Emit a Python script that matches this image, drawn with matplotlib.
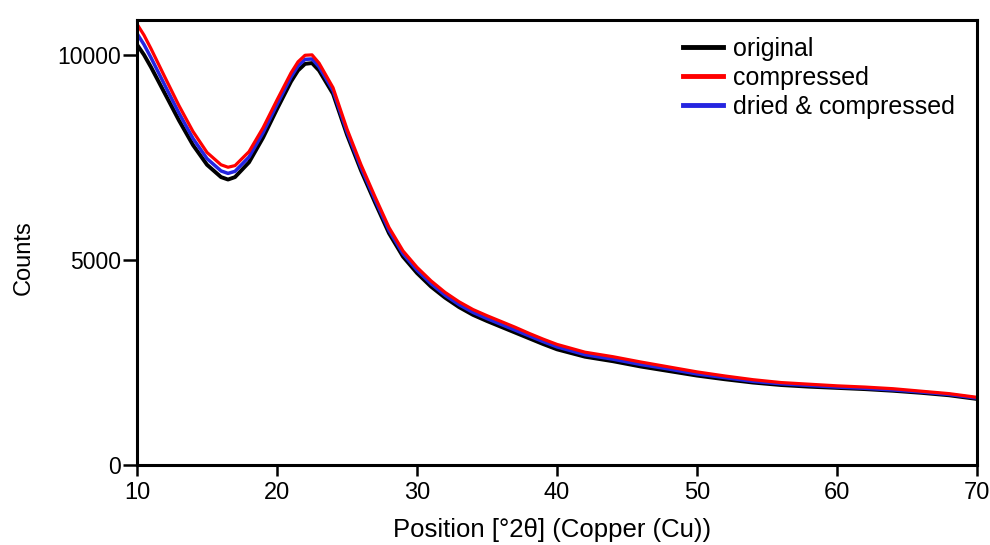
import matplotlib.pyplot as plt

plt.rcParams['font.family'] = ['Liberation Sans', 'DejaVu Sans']

# 2theta positions (deg) and counts
two_theta = [10, 10.5, 11, 12, 13, 14, 15, 16, 16.5, 17, 18, 19, 20, 21, 21.5, 22,
             22.5, 23, 24, 25, 26, 27, 28, 29, 30, 31, 32, 33, 34, 35, 36, 37, 38,
             39, 40, 42, 44, 46, 48, 50, 52, 54, 56, 58, 60, 62, 64, 66, 68, 70]

original = [10250, 10000, 9700, 9050, 8400, 7800, 7320, 7020, 6960, 7020, 7380,
            7980, 8680, 9350, 9620, 9780, 9800, 9620, 9050, 8050, 7180, 6400,
            5650, 5080, 4680, 4350, 4080, 3850, 3660, 3510, 3370, 3230, 3090,
            2950, 2820, 2640, 2530, 2400, 2290, 2180, 2090, 2010, 1950, 1910,
            1880, 1850, 1810, 1760, 1700, 1610]

compressed = [10750, 10480, 10150, 9450, 8760, 8130, 7620, 7320, 7260, 7300, 7640,
              8220, 8900, 9560, 9830, 9990, 10000, 9800, 9200, 8190, 7320, 6540,
              5790, 5220, 4820, 4490, 4210, 3980, 3790, 3640, 3500, 3360, 3210,
              3070, 2940, 2750, 2640, 2510, 2390, 2270, 2170, 2080, 2010, 1970,
              1930, 1900, 1860, 1800, 1740, 1650]

dried_compressed = [10520, 10250, 9930, 9250, 8580, 7960, 7470, 7170, 7110, 7160, 7510,
                    8100, 8790, 9460, 9730, 9890, 9900, 9710, 9130, 8120, 7250, 6470,
                    5720, 5150, 4750, 4420, 4140, 3910, 3720, 3570, 3430, 3290, 3150,
                    3010, 2880, 2690, 2580, 2450, 2340, 2220, 2130, 2040, 1980, 1940,
                    1900, 1870, 1830, 1780, 1720, 1630]

fig = plt.figure(figsize=(9.9, 5.45), dpi=100)
ax = fig.add_axes([0.1384, 0.1468, 0.8485, 0.8165])

ax.plot(two_theta, original, color='black', lw=2.8, label='original')
ax.plot(two_theta, dried_compressed, color='#2525e0', lw=2.5, label='dried & compressed')
ax.plot(two_theta, compressed, color='red', lw=2.3, label='compressed')

ax.set_xlim(10, 70)
ax.set_ylim(0, 10850)
ax.set_xticks([10, 20, 30, 40, 50, 60, 70])
ax.set_yticks([0, 5000, 10000])

for s in ax.spines.values():
    s.set_linewidth(2.2)
ax.tick_params(direction='out', width=1.8)
ax.tick_params(axis='x', length=8, labelsize=17, pad=4)
ax.tick_params(axis='y', length=10, labelsize=16.5, pad=1.5)

ax.set_xlabel('Position [°2θ] (Copper (Cu))', fontsize=18.5)
ax.set_ylabel('Counts', fontsize=17)
ax.xaxis.set_label_coords(0.494, -0.118)
ax.yaxis.set_label_coords(-0.122, 0.467)

h, l = ax.get_legend_handles_labels()
order = [0, 2, 1]
leg = ax.legend([h[i] for i in order], [l[i] for i in order],
                loc='upper left', bbox_to_anchor=(0.65, 0.962),
                frameon=False, fontsize=18, borderpad=0, borderaxespad=0,
                handlelength=1.6, handletextpad=0.4, labelspacing=0.2)
for line in leg.get_lines():
    line.set_linewidth(3.5)

plt.savefig('out.png', dpi=100)
